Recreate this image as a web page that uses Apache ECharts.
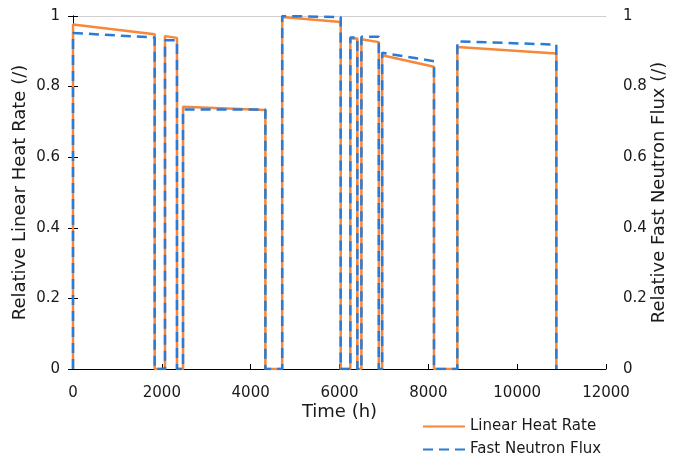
<!DOCTYPE html>
<html>
<head>
<meta charset="utf-8">
<script src="https://cdn.jsdelivr.net/npm/echarts@6/dist/echarts.min.js"></script>
<style>html,body{margin:0;padding:0;background:#fff}#c{width:673px;height:457px}</style>
</head>
<body>
<div id="c"></div>
<script>
// Irradiation cycles (h)
var segStart = [0, 2071, 2477, 4710, 6244, 6493, 6960, 8653];
var segEnd   = [1839, 2341, 4331, 6027, 6402, 6885, 8127, 10882];
// Relative linear heat rate at start / end of each cycle
var lhrStart = [0.976, 0.943, 0.743, 0.997, 0.936, 0.934, 0.889, 0.912];
var lhrEnd   = [0.948, 0.938, 0.734, 0.983, 0.936, 0.926, 0.856, 0.894];
// Relative fast neutron flux at start / end of each cycle
var fluxStart = [0.952, 0.931, 0.735, 1.000, 0.939, 0.941, 0.896, 0.928];
var fluxEnd   = [0.939, 0.931, 0.735, 0.997, 0.939, 0.941, 0.872, 0.919];
var xTicks = [0, 2000, 4000, 6000, 8000, 10000, 12000];
var yTicks = [0, 0.2, 0.4, 0.6, 0.8, 1];
var seriesNames = ['Linear Heat Rate', 'Fast Neutron Flux'];

function buildSteps(vs, ve) {
  var pts = [];
  for (var i = 0; i < segStart.length; i++) {
    pts.push([segStart[i], 0]);
    pts.push([segStart[i], vs[i]]);
    pts.push([segEnd[i], ve[i]]);
    pts.push([segEnd[i], 0]);
  }
  return pts;
}

var font = 'DejaVu Sans';
var txt = '#1a1a1a';
var chart = echarts.init(document.getElementById('c'));
var yAxisCommon = {
  type: 'value', min: yTicks[0], max: yTicks[yTicks.length - 1], interval: 0.2,
  axisLine: {show: true, lineStyle: {color: '#000', width: 1}},
  axisTick: {show: true, inside: true, length: 5, lineStyle: {color: '#000'}},
  splitLine: {show: false},
  nameLocation: 'middle', nameMoveOverlap: false,
  nameTextStyle: {fontFamily: font, fontSize: 18, color: txt},
  axisLabel: {fontFamily: font, fontSize: 15, color: txt}
};
var legendCommon = {
  orient: 'horizontal', left: 417,
  itemWidth: 42, itemHeight: 15,
  itemStyle: {opacity: 0},
  textStyle: {fontFamily: font, fontSize: 15, color: txt}
};
chart.setOption({
  animation: false,
  backgroundColor: '#fff',
  grid: {left: 73, right: 67, top: 16, bottom: 88, containLabel: false, outerBoundsMode: 'none'},
  legend: [
    Object.assign({}, legendCommon, {top: 414, data: [seriesNames[0]]}),
    Object.assign({}, legendCommon, {top: 437, data: [seriesNames[1]]})
  ],
  xAxis: [{
    type: 'value', min: xTicks[0], max: xTicks[xTicks.length - 1], interval: 2000,
    name: 'Time (h)', nameLocation: 'middle', nameGap: 34, nameMoveOverlap: false,
    nameTextStyle: {fontFamily: font, fontSize: 18, color: txt},
    axisLine: {show: true, onZero: false, lineStyle: {color: '#000', width: 1}},
    axisTick: {show: true, inside: true, length: 5, lineStyle: {color: '#000'}},
    splitLine: {show: false},
    axisLabel: {fontFamily: font, fontSize: 15, color: txt, margin: 17,
      formatter: function (v) { return String(v); }}
  }, {
    type: 'value', position: 'top', min: 0, max: 12000,
    axisLine: {show: true, onZero: false, lineStyle: {color: '#d0d0d0', width: 1}},
    axisTick: {show: false}, axisLabel: {show: false}, splitLine: {show: false}
  }],
  yAxis: [
    Object.assign({}, yAxisCommon, {position: 'left', name: 'Relative Linear Heat Rate (/)', nameGap: 44,
      axisLabel: Object.assign({}, yAxisCommon.axisLabel, {margin: 13})}),
    Object.assign({}, yAxisCommon, {position: 'right', name: 'Relative Fast Neutron Flux (/)', nameGap: 44,
      axisLabel: Object.assign({}, yAxisCommon.axisLabel, {margin: 17})})
  ],
  series: [{
    name: seriesNames[0], type: 'line', yAxisIndex: 0, xAxisIndex: 0,
    symbol: 'none', showSymbol: false,
    lineStyle: {color: '#F5883A', width: 2.5},
    itemStyle: {color: '#F5883A'},
    data: buildSteps(lhrStart, lhrEnd), z: 3
  }, {
    name: seriesNames[1], type: 'line', yAxisIndex: 1, xAxisIndex: 0,
    symbol: 'none', showSymbol: false,
    lineStyle: {color: '#2A7BD6', width: 2.5, type: [10, 6]},
    itemStyle: {color: '#2A7BD6'},
    data: buildSteps(fluxStart, fluxEnd), z: 4
  }]
});
</script>
</body>
</html>
